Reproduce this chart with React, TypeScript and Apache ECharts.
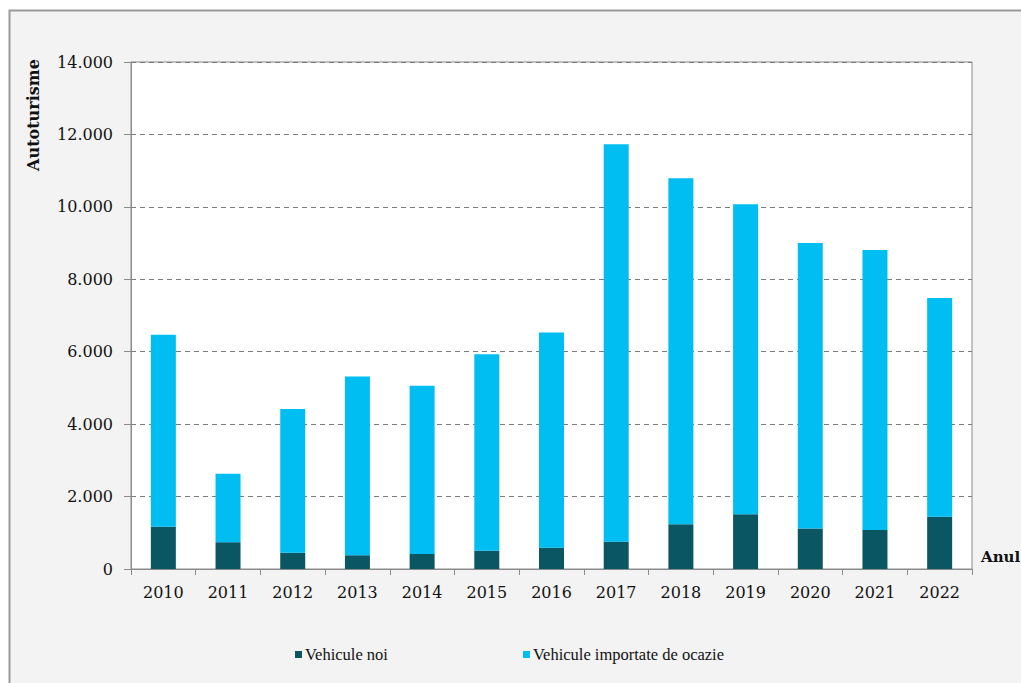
import React, { useEffect, useRef } from "react";
import * as echarts from "echarts";

const years = ["2010", "2011", "2012", "2013", "2014", "2015", "2016", "2017", "2018", "2019", "2020", "2021", "2022"];
const newVehicles = [1170, 740, 450, 380, 415, 505, 590, 755, 1235, 1510, 1115, 1080, 1445];
const usedImported = [5300, 1890, 3965, 4935, 4645, 5425, 5940, 10975, 9555, 8560, 7885, 7730, 6035];
const yTicks = { min: 0, max: 14000, interval: 2000 };
const seriesNames = ["Vehicule noi", "Vehicule importate de ocazie"];

const fmt = (v: number) => {
  const s = String(Math.round(v));
  return s.replace(/\B(?=(\d{3})+(?!\d))/g, ".");
};

export default function App() {
  const ref = useRef<HTMLDivElement>(null);
  useEffect(() => {
    if (!ref.current) return;
    const chart = echarts.init(ref.current, null, { renderer: "svg" });
    const serif = "'DejaVu Serif', serif";
    const legendText = { fontFamily: "'Liberation Serif', serif", fontSize: 16.5, color: "#111", padding: [0, 0, 0, -2] };
    chart.setOption({
      animation: false,
      backgroundColor: "#ffffff",
      graphic: [
        {
          type: "rect",
          z: -10,
          silent: true,
          shape: { x: 9.5, y: 10.5, width: 1030, height: 700 },
          style: { fill: "#f3f3f3", stroke: "#9a9a9a", lineWidth: 2 },
        },
        {
          type: "text",
          x: 33,
          y: 115,
          rotation: Math.PI / 2,
          style: {
            text: "Autoturisme",
            fill: "#111",
            font: "bold 16px 'DejaVu Serif', serif",
            textAlign: "center",
            textVerticalAlign: "middle",
          },
        },
        {
          type: "text",
          x: 981,
          y: 557,
          style: {
            text: "Anul",
            fill: "#111",
            font: "bold 15px 'DejaVu Serif', serif",
            textAlign: "left",
            textVerticalAlign: "middle",
          },
        },
      ],
      grid: {
        left: 131,
        right: 49,
        top: 62,
        bottom: 114,
        show: true,
        backgroundColor: "#ffffff",
        borderColor: "#8a8a8a",
        borderWidth: 1,
        containLabel: false,
      },
      legend: [
        {
          data: [seriesNames[0]],
          left: 290,
          top: 641,
          itemWidth: 7,
          itemHeight: 7,
          icon: "rect",
          textStyle: legendText,
        },
        {
          data: [seriesNames[1]],
          left: 518,
          top: 641,
          itemWidth: 7,
          itemHeight: 7,
          icon: "rect",
          textStyle: legendText,
        },
      ],
      xAxis: {
        type: "category",
        data: years,
        boundaryGap: true,
        axisLine: { lineStyle: { color: "#8a8a8a", width: 1 } },
        axisTick: { show: true, alignWithLabel: false, length: 6, lineStyle: { color: "#8a8a8a" } },
        axisLabel: { margin: 15, fontFamily: serif, fontSize: 16, color: "#111" },
      },
      yAxis: {
        type: "value",
        min: yTicks.min,
        max: yTicks.max,
        interval: yTicks.interval,
        axisLine: { show: true, lineStyle: { color: "#8a8a8a", width: 1 } },
        axisTick: { show: true, length: 7, lineStyle: { color: "#8a8a8a" } },
        axisLabel: { margin: 18, fontFamily: serif, fontSize: 16, color: "#111", formatter: (v: number) => fmt(v) },
        splitLine: { show: true, lineStyle: { color: "#7a7a7a", type: [5, 4], width: 1 } },
      },
      series: [
        {
          name: seriesNames[0],
          type: "bar",
          stack: "total",
          data: newVehicles,
          barWidth: 25,
          itemStyle: { color: "#0b5663" },
        },
        {
          name: seriesNames[1],
          type: "bar",
          stack: "total",
          data: usedImported,
          barWidth: 25,
          itemStyle: { color: "#00bef2" },
        },
      ],
    });
    return () => chart.dispose();
  }, []);
  return <div ref={ref} style={{ position: "absolute", left: 0, top: 0, width: 1021, height: 683 }} />;
}
